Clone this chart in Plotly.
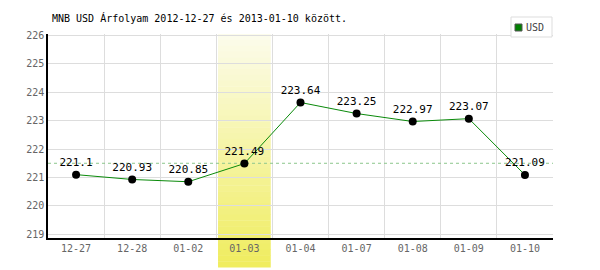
import plotly.graph_objects as go

categories = ["12-27", "12-28", "01-02", "01-03", "01-04", "01-07", "01-08", "01-09", "01-10"]
usd_values = [221.1, 220.93, 220.85, 221.49, 223.64, 223.25, 222.97, 223.07, 221.09]
value_labels = ["221.1", "220.93", "220.85", "221.49", "223.64", "223.25", "222.97", "223.07", "221.09"]
y_ticks = [219, 220, 221, 222, 223, 224, 225, 226]
ref_level = 221.5
highlight_index = 3
series_name = "USD"

mono = "DejaVu Sans Mono"
W, H = 600, 270
L, R, T, B = 48, 47, 34, 32
PW, PH = W - L - R, H - T - B


def px_x(p):
    return (p - L) / PW


def px_y(p):
    return (H - B - p) / PH


fig = go.Figure()

# gradient highlight band
n = 40
top, bottom = 1.0, px_y(267)
c0 = (252, 252, 235)
c1 = (240, 237, 96)
for i in range(n):
    t = i / (n - 1)
    col = tuple(int(c0[k] + (c1[k] - c0[k]) * t) for k in range(3))
    y1 = top - (top - bottom) * i / n
    y0 = top - (top - bottom) * (i + 1) / n
    fig.add_shape(type="rect", xref="x", yref="paper",
                  x0=highlight_index - 0.47, x1=highlight_index + 0.47,
                  y0=y0 - 0.002, y1=y1, fillcolor="rgb(%d,%d,%d)" % col,
                  line_width=0, layer="below")

fig.add_trace(go.Scatter(
    x=[-0.5, len(categories) - 0.5], y=[ref_level, ref_level], mode="lines",
    line=dict(color="#8cc68c", width=1, dash="3px,3px"), hoverinfo="skip", showlegend=False,
))

fig.add_trace(go.Scatter(
    x=list(range(len(categories))), y=usd_values, mode="lines+markers+text",
    name=series_name, text=value_labels, textposition="top center",
    textfont=dict(family=mono, size=11, color="#000"),
    line=dict(color="#0a8a0a", width=1),
    marker=dict(color="#000", size=8),
    showlegend=False,
))

# legend box drawn manually
fig.add_shape(type="rect", xref="paper", yref="paper", x0=px_x(511), x1=px_x(552),
              y0=px_y(37), y1=px_y(17), fillcolor="white", line=dict(color="#dddddd", width=1))
fig.add_shape(type="rect", xref="paper", yref="paper", x0=px_x(515), x1=px_x(522),
              y0=px_y(31), y1=px_y(24), fillcolor="#008000", line=dict(color="#555555", width=1))
fig.add_annotation(xref="paper", yref="paper", x=px_x(524), y=px_y(27.5), xanchor="left",
                   yanchor="middle", text=series_name, showarrow=False,
                   font=dict(family=mono, size=10, color="#444"))

fig.update_layout(
    width=W, height=H, margin=dict(l=L, r=R, t=T, b=B),
    plot_bgcolor="rgba(0,0,0,0)", paper_bgcolor="white",
    title=dict(text="MNB USD Árfolyam 2012-12-27 és 2013-01-10 között.", x=52/600, xanchor="left",
               y=1 - 18/270, yanchor="middle", font=dict(family=mono, size=10, color="#000")),
    showlegend=False,
    xaxis=dict(tickmode="array", tickvals=list(range(len(categories))), ticktext=categories,
               range=[-0.5, len(categories) - 0.5], showgrid=False,
               showline=True, linecolor="#000", linewidth=1.5,
               tickfont=dict(family=mono, size=10, color="#666"), ticks="", zeroline=False,
               minor=dict(tickvals=[i + 0.5 for i in range(-1, len(categories))], showgrid=True,
                          gridcolor="#dddddd", gridwidth=1)),
    yaxis=dict(range=[218.87, 226.05], tickvals=y_ticks, showgrid=True, gridcolor="#dddddd",
               showline=True, linecolor="#000", linewidth=1.5, zeroline=False, ticks="",
               tickfont=dict(family=mono, size=10, color="#666")),
)

fig.write_html("out.html")
